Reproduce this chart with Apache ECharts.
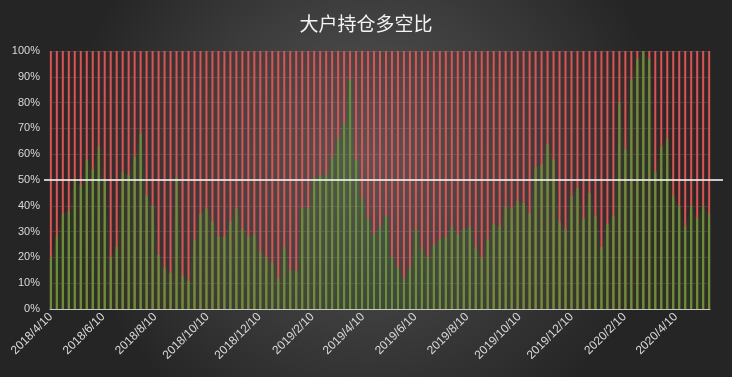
<!DOCTYPE html>
<html>
<head>
<meta charset="utf-8">
<script src="https://cdn.jsdelivr.net/npm/echarts@6/dist/echarts.min.js"></script>
<style>
  html, body { margin: 0; padding: 0; background: #333; }
  #main { width: 732px; height: 377px; }
</style>
</head>
<body>
<div id="main"></div>
<script>
// 大户多头占比（%），每周一个数据，从 2018/4/10 开始
const startDay = [2018, 4, 10];
const longRatio = [
  20, 28, 37, 38, 50, 48, 58, 54, 63, 50,
  20, 24, 53, 52, 59, 68, 44, 40, 21, 16,
  14, 51, 13, 11, 27, 37, 39, 34, 28, 28,
  34, 39, 31, 28, 29, 22, 20, 18, 12, 24,
  15, 15, 39, 39, 51, 52, 52, 59, 66, 72,
  89, 58, 43, 35, 29, 32, 36, 20, 16, 12,
  16, 31, 23, 20, 25, 27, 28, 32, 29, 31,
  32, 24, 20, 27, 33, 32, 40, 39, 42, 41,
  37, 55, 56, 64, 58, 34, 31, 44, 47, 35,
  45, 36, 24, 33, 36, 80, 62, 89, 97, 100,
  97, 53, 63, 66, 44, 40, 32, 40, 35, 40,
  37
];
const total = 100;
const tickDates = [
  [2018, 4, 10], [2018, 6, 10], [2018, 8, 10], [2018, 10, 10], [2018, 12, 10],
  [2019, 2, 10], [2019, 4, 10], [2019, 6, 10], [2019, 8, 10], [2019, 10, 10],
  [2019, 12, 10], [2020, 2, 10], [2020, 4, 10]
];

// x 轴用“距起始日的天数”
const DAY = 24 * 3600 * 1000;
const t0 = Date.UTC(startDay[0], startDay[1] - 1, startDay[2]);
const dayOf = d => Math.round((Date.UTC(d[0], d[1] - 1, d[2]) - t0) / DAY);
const weekDays = longRatio.map((v, i) => i * 7);
const longData = longRatio.map((v, i) => [weekDays[i], v]);
const totalData = longRatio.map((v, i) => [weekDays[i], total]);
const tickValues = tickDates.map(dayOf);

const green = '#66913a';
const red = '#d65656';
const labelColor = '#d9d9d9';

let dom = document.getElementById('main');
let myChart = echarts.init(dom, null, { renderer: 'canvas' });

let option = {
  animation: false,
  backgroundColor: {
    type: 'radial', x: 0.5, y: 0.42, r: 0.8,
    colorStops: [
      { offset: 0, color: '#585858' },
      { offset: 1, color: '#252525' }
    ]
  },
  title: {
    text: '大户持仓多空比',
    left: 'center',
    top: 9,
    textStyle: { color: '#f2f2f2', fontSize: 19, fontWeight: 'normal', fontFamily: 'Noto Sans CJK SC' }
  },
  grid: [
    { left: 50, right: 22, top: 51, bottom: 68 },
    { left: 44, right: 9, top: 51, bottom: 68 }
  ],
  xAxis: [{
    type: 'value',
    gridIndex: 0,
    min: -1,
    max: weekDays[weekDays.length - 1] + 1,
    splitLine: { show: false },
    axisTick: { show: false },
    axisLine: { onZero: false, lineStyle: { color: '#c8c8c8', width: 1 } },
    axisLabel: {
      customValues: tickValues,
      rotate: 45,
      color: labelColor,
      fontSize: 12,
      fontFamily: 'Liberation Sans',
      margin: 6,
      hideOverlap: false,
      formatter: function (v) {
        const d = new Date(t0 + v * DAY);
        return d.getUTCFullYear() + '/' + (d.getUTCMonth() + 1) + '/' + d.getUTCDate();
      }
    }
  }, {
    type: 'value', gridIndex: 1, min: 0, max: 1, show: false
  }],
  yAxis: [{
    type: 'value',
    gridIndex: 0,
    min: 0,
    max: 100,
    interval: 10,
    axisLine: { show: false },
    axisTick: { show: false },
    axisLabel: {
      formatter: '{value}%',
      color: labelColor,
      fontSize: 11,
      fontFamily: 'Liberation Sans',
      margin: 10
    },
    splitLine: { lineStyle: { color: 'rgba(255,255,255,0.12)', width: 1 } }
  }, {
    type: 'value', gridIndex: 1, min: 0, max: 100, show: false
  }],
  series: [
    {
      // 多头淡色底
      name: '多头区域',
      type: 'line',
      data: longData,
      showSymbol: false,
      silent: true,
      lineStyle: { width: 0 },
      areaStyle: { color: '#3f6a25', opacity: 0.2, origin: 'start' },
      z: 1
    },
    {
      // 空头淡色底
      name: '空头区域',
      type: 'line',
      data: longData,
      showSymbol: false,
      silent: true,
      lineStyle: { width: 0 },
      areaStyle: { color: '#8a3030', opacity: 0.12, origin: 'end' },
      z: 1
    },
    {
      name: '空',
      type: 'bar',
      barWidth: 2,
      barGap: '-100%',
      data: totalData,
      itemStyle: { color: red },
      z: 2
    },
    {
      name: '多',
      type: 'bar',
      barWidth: 2,
      barGap: '-100%',
      data: longData,
      itemStyle: { color: green },
      z: 3
    },
    {
      name: '50%',
      type: 'line',
      xAxisIndex: 1,
      yAxisIndex: 1,
      data: [[0, 50], [1, 50]],
      showSymbol: false,
      silent: true,
      lineStyle: { color: '#ffffff', width: 1.5 },
      z: 5
    }
  ]
};

if (option && typeof option === 'object') {
  myChart.setOption(option);
}

window.addEventListener('resize', myChart.resize);
</script>
</body>
</html>
